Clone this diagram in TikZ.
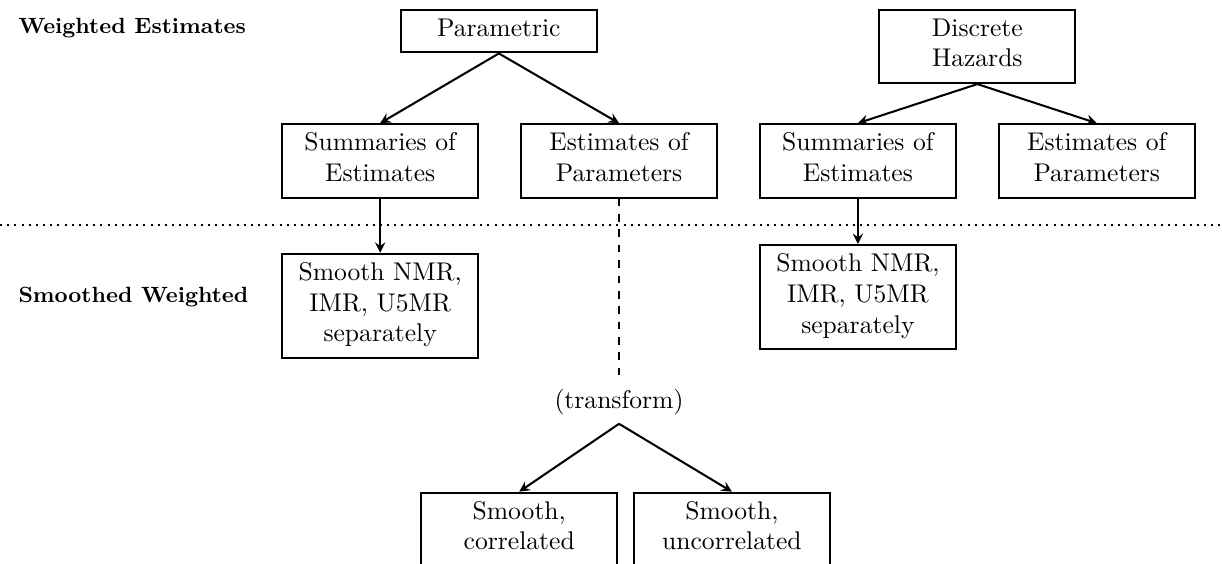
\documentclass[tikz,border=0pt]{standalone}
\usepackage{amsmath}
\usepackage{tikz}
\usetikzlibrary{positioning}

\begin{document}
\begin{tikzpicture}

		% Define styles
		\tikzstyle{box} = [
		rectangle, minimum width=2.69cm, text depth=3pt,
		text centered, draw=black, thick, align=center]
		\tikzstyle{level} = [anchor=west, font=\fontsize{8.6}{10}\selectfont\bfseries]
		\tikzstyle{arrow} = [thick,->,>=stealth]

		\useasboundingbox (0,0) rectangle (16.78,-7.74);

		% Level labels
		\node (weighted) [level] at (0.13,-0.39) {Weighted Estimates};
		\node (smoothed) [level] at (0.13,-4.08) {Smoothed Weighted};

		% Nodes
		\node (param) [box] at (6.85,-0.43) {Parametric};

		\node (sumL) [box, below of=param, xshift=-1.63cm, yshift=-0.78cm] {
			Summaries of \\
			Estimates
		};
		\node (estL) [box, right of=sumL, xshift=2.28cm] {
			Estimates of \\
			Parameters
		};
		\node (sumR) [box, right of=estL, xshift=2.28cm] {
			Summaries of \\
			Estimates
		};
		\node (estR) [box, right of=sumR, xshift=2.28cm] {
			Estimates of \\
			Parameters
		};

		\node (hazard) [box] at (13.42,-0.64) {
			Discrete \\
			Hazards
		};

		\node (smoothL) [box, below of=sumL, yshift=-0.99cm] {
			Smooth NMR, \\
			IMR, U5MR \\
			separately
		};
		\node (smoothR) [box, below of=sumR, yshift=-0.87cm] {
			Smooth NMR, \\
			IMR, U5MR \\
			separately
		};

		\node (transform) [below of=estL, yshift=-2.31cm] {(transform)};

		\node (corr) [box, below of=transform, xshift=-1.37cm, yshift=-0.75cm] {
			Smooth, \\
			correlated
		};
		\node (uncorr) [box, right of=corr, xshift=1.92cm] {
			Smooth, \\
			uncorrelated
		};

		% Divider
		\coordinate (divL) at (0,-3.09);
		\coordinate (divR) at (16.78,-3.09);
		\draw [thick, dotted] (divL) -- (divR);

		% Arrows
		\draw [arrow] (param.south) -- (sumL.north);
		\draw [arrow] (param.south) -- (estL.north);
		\draw [arrow] (hazard.south) -- (sumR.north);
		\draw [arrow] (hazard.south) -- (estR.north);
		\draw [arrow] (sumL) -- (smoothL);
		\draw [arrow] (sumR) -- (smoothR);
		\draw [thick, dashed] (estL) -- (transform);
		\draw [arrow] (transform.south) -- (corr.north);
		\draw [arrow] (transform.south) -- (uncorr.north);
	\end{tikzpicture}
\end{document}
